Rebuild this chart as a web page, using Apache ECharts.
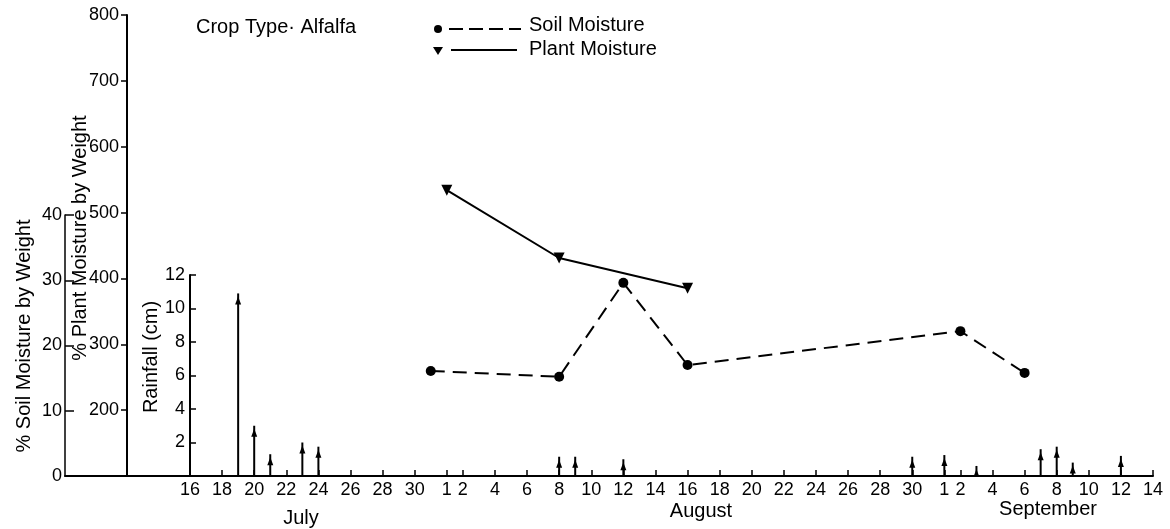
<!DOCTYPE html>
<html><head><meta charset="utf-8">
<script src="https://cdn.jsdelivr.net/npm/echarts@6/dist/echarts.min.js"></script>
<style>html,body{margin:0;padding:0;background:#fff}#c{width:1170px;height:529px}</style>
</head><body><div id="c"></div>
<script>
// ---- data ----
const tickDates = ['Jul 16','Jul 18','Jul 20','Jul 22','Jul 24','Jul 26','Jul 28','Jul 30',
  'Aug 1','Aug 2','Aug 4','Aug 6','Aug 8','Aug 10','Aug 12','Aug 14','Aug 16','Aug 18','Aug 20',
  'Aug 22','Aug 24','Aug 26','Aug 28','Aug 30','Sep 1','Sep 2','Sep 4','Sep 6','Sep 8','Sep 10','Sep 12','Sep 14'];
const tickLabels = ['16','18','20','22','24','26','28','30',
  '1','2','4','6','8','10','12','14','16','18','20',
  '22','24','26','28','30','1','2','4','6','8','10','12','14'];
const monthNames = ['July','August','September'];

const soilDates  = ['Jul 31','Aug 8','Aug 12','Aug 16','Sep 2','Sep 6'];
const soilValues = [16.1, 15.2, 29.6, 17.0, 22.2, 15.8];

const plantDates  = ['Aug 1','Aug 8','Aug 16'];
const plantValues = [534, 431, 385];

const rainDates  = ['Jul 19','Jul 20','Jul 21','Jul 23','Jul 24','Aug 8','Aug 9','Aug 12',
  'Aug 30','Sep 1','Sep 3','Sep 7','Sep 8','Sep 9','Sep 12'];
const rainValues = [10.9, 3.0, 1.3, 2.0, 1.75, 1.15, 1.15, 1.0, 1.15, 1.25, 0.6, 1.6, 1.75, 0.8, 1.2];

const soilTicksMax = 40, plantMin = 100, plantMax = 800, rainTicksMax = 12;

// ---- helpers ----
const monthOffset = {Jul: -16, Aug: 15, Sep: 46}; // day index, Jul 16 = 0
function dayIndex(s){ const p = s.split(' '); return monthOffset[p[0]] + Number(p[1]); }
const tickDays = tickDates.map(dayIndex);

const NARROW = "'Liberation Sans Narrow', 'Liberation Sans', sans-serif";
const SANS = "'Liberation Sans', Arial, sans-serif";
const black = '#000';

// pixel geometry of the main plot
const gTop = 15, gBottom = 53;
const plotH = 529 - gTop - gBottom;           // 461
const soilTopY = 215, rainTopY = 275;          // where 40 % and 12 cm sit
const soilHiddenMax = soilTicksMax * plotH / (529 - gBottom - soilTopY);
const rainHiddenMax = rainTicksMax * plotH / (529 - gBottom - rainTopY);

const chart = echarts.init(document.getElementById('c'));
chart.setOption({
  animation: false,
  backgroundColor: '#fff',
  grid: [
    {left: 190, right: 17, top: gTop, bottom: gBottom},
    {left: 65, width: 125, top: soilTopY, bottom: gBottom},
    {left: 190, width: 10, top: rainTopY, bottom: gBottom}
  ],
  xAxis: [
    {
      gridIndex: 0, type: 'value', min: 0, max: 60,
      axisLine: {onZero: false, lineStyle: {color: black, width: 2}},
      axisTick: {inside: true, length: 6, lineStyle: {color: black, width: 1.5}, customValues: tickDays},
      axisLabel: {
        customValues: tickDays, margin: 5, color: black, fontSize: 18, fontFamily: NARROW,
        formatter: v => { const i = tickDays.indexOf(v); return i >= 0 ? tickLabels[i] : ''; }
      },
      splitLine: {show: false}
    },
    {
      gridIndex: 1, type: 'value', min: 0, max: 1,
      axisLine: {onZero: false, lineStyle: {color: black, width: 2}},
      axisTick: {show: false}, axisLabel: {show: false}, splitLine: {show: false}
    },
    {gridIndex: 2, type: 'value', min: 0, max: 1, show: false, axisLine: {onZero: false}}
  ],
  yAxis: [
    { // plant moisture (visible, offset left)
      gridIndex: 0, type: 'value', position: 'left', offset: 63,
      min: plantMin, max: plantMax, interval: 100,
      axisLine: {show: true, onZero: false, lineStyle: {color: black, width: 2}},
      axisTick: {show: true, length: 6, lineStyle: {color: black, width: 1.5}},
      axisLabel: {color: black, fontSize: 18, fontFamily: NARROW, margin: 8,
        formatter: v => v === plantMin ? '' : String(v)},
      splitLine: {show: false}
    },
    {gridIndex: 0, type: 'value', show: false, min: 0, max: soilHiddenMax, axisLine: {onZero: false}, splitLine: {show: false}},
    {gridIndex: 0, type: 'value', show: false, min: 0, max: rainHiddenMax, axisLine: {onZero: false}, splitLine: {show: false}},
    { // soil display axis
      gridIndex: 1, type: 'value', min: 0, max: soilTicksMax, interval: 10,
      axisLine: {show: true, onZero: false, lineStyle: {color: black, width: 1.5}},
      axisTick: {show: true, inside: true, length: 9, lineStyle: {color: black, width: 1.5}},
      axisLabel: {color: black, fontSize: 18, fontFamily: NARROW, margin: 3},
      splitLine: {show: false}
    },
    { // rainfall display axis
      gridIndex: 2, type: 'value', min: 0, max: rainTicksMax, interval: 2,
      axisLine: {show: true, onZero: false, lineStyle: {color: black, width: 2}},
      axisTick: {show: true, inside: true, length: 6, lineStyle: {color: black, width: 1.5}},
      axisLabel: {color: black, fontSize: 18, fontFamily: NARROW, margin: 5,
        formatter: v => v === 0 ? '' : String(v)},
      splitLine: {show: false}
    }
  ],
  series: [
    {
      name: 'Rainfall', type: 'custom', xAxisIndex: 0, yAxisIndex: 2,
      data: rainDates.map((d, i) => [dayIndex(d), rainValues[i]]),
      renderItem: function (params, api) {
        const x = api.value(0), v = api.value(1);
        const p0 = api.coord([x, 0]), p1 = api.coord([x, v]);
        return {type: 'group', children: [
          {type: 'line', shape: {x1: p0[0], y1: p0[1], x2: p1[0], y2: p1[1]},
           style: {stroke: black, lineWidth: 2}},
          {type: 'polygon', shape: {points: [[p1[0], p1[1] + 3], [p1[0] - 3, p1[1] + 11], [p1[0] + 3, p1[1] + 11]]},
           style: {fill: black}}
        ]};
      }
    },
    {
      name: 'Soil Moisture', type: 'line', xAxisIndex: 0, yAxisIndex: 1,
      data: soilDates.map((d, i) => [dayIndex(d), soilValues[i]]),
      symbol: 'circle', symbolSize: 10,
      itemStyle: {color: black},
      lineStyle: {color: black, width: 2, type: [14, 8]}
    },
    {
      name: 'Plant Moisture', type: 'line', xAxisIndex: 0, yAxisIndex: 0,
      data: plantDates.map((d, i) => [dayIndex(d), plantValues[i]]),
      symbol: 'triangle', symbolRotate: 180, symbolSize: 11,
      itemStyle: {color: black},
      lineStyle: {color: black, width: 2}
    }
  ],
  graphic: [
    {type: 'text', left: 196, top: 17, style: {text: 'Crop Type· Alfalfa', fill: black, font: '20px ' + SANS}},
    // legend
    {type: 'circle', shape: {cx: 438, cy: 29, r: 4}, style: {fill: black}},
    {type: 'line', shape: {x1: 449, y1: 29, x2: 521, y2: 29}, style: {stroke: black, lineWidth: 2, lineDash: [14, 6]}},
    {type: 'text', left: 529, top: 15, style: {text: 'Soil Moisture', fill: black, font: '20px ' + SANS}},
    {type: 'polygon', shape: {points: [[433, 47], [443, 47], [438, 55]]}, style: {fill: black}},
    {type: 'line', shape: {x1: 451, y1: 50, x2: 517, y2: 50}, style: {stroke: black, lineWidth: 2}},
    {type: 'text', left: 529, top: 39, style: {text: 'Plant Moisture', fill: black, font: '20px ' + SANS}},
    // axis titles
    {type: 'text', x: 24, y: 336, rotation: Math.PI / 2,
     style: {text: '% Soil Moisture by Weight', fill: black, font: '20px ' + SANS, align: 'center', verticalAlign: 'middle'}},
    {type: 'text', x: 80, y: 238, rotation: Math.PI / 2,
     style: {text: '% Plant Moisture by Weight', fill: black, font: '20px ' + SANS, align: 'center', verticalAlign: 'middle'}},
    {type: 'text', x: 151, y: 357, rotation: Math.PI / 2,
     style: {text: 'Rainfall (cm)', fill: black, font: '20px ' + SANS, align: 'center', verticalAlign: 'middle'}},
    // month labels
    {type: 'text', x: 301, y: 518, style: {text: monthNames[0], fill: black, font: '20px ' + SANS, align: 'center', verticalAlign: 'middle'}},
    {type: 'text', x: 701, y: 511, style: {text: monthNames[1], fill: black, font: '20px ' + SANS, align: 'center', verticalAlign: 'middle'}},
    {type: 'text', x: 1048, y: 509, style: {text: monthNames[2], fill: black, font: '20px ' + SANS, align: 'center', verticalAlign: 'middle'}}
  ]
});
</script>
</body></html>
